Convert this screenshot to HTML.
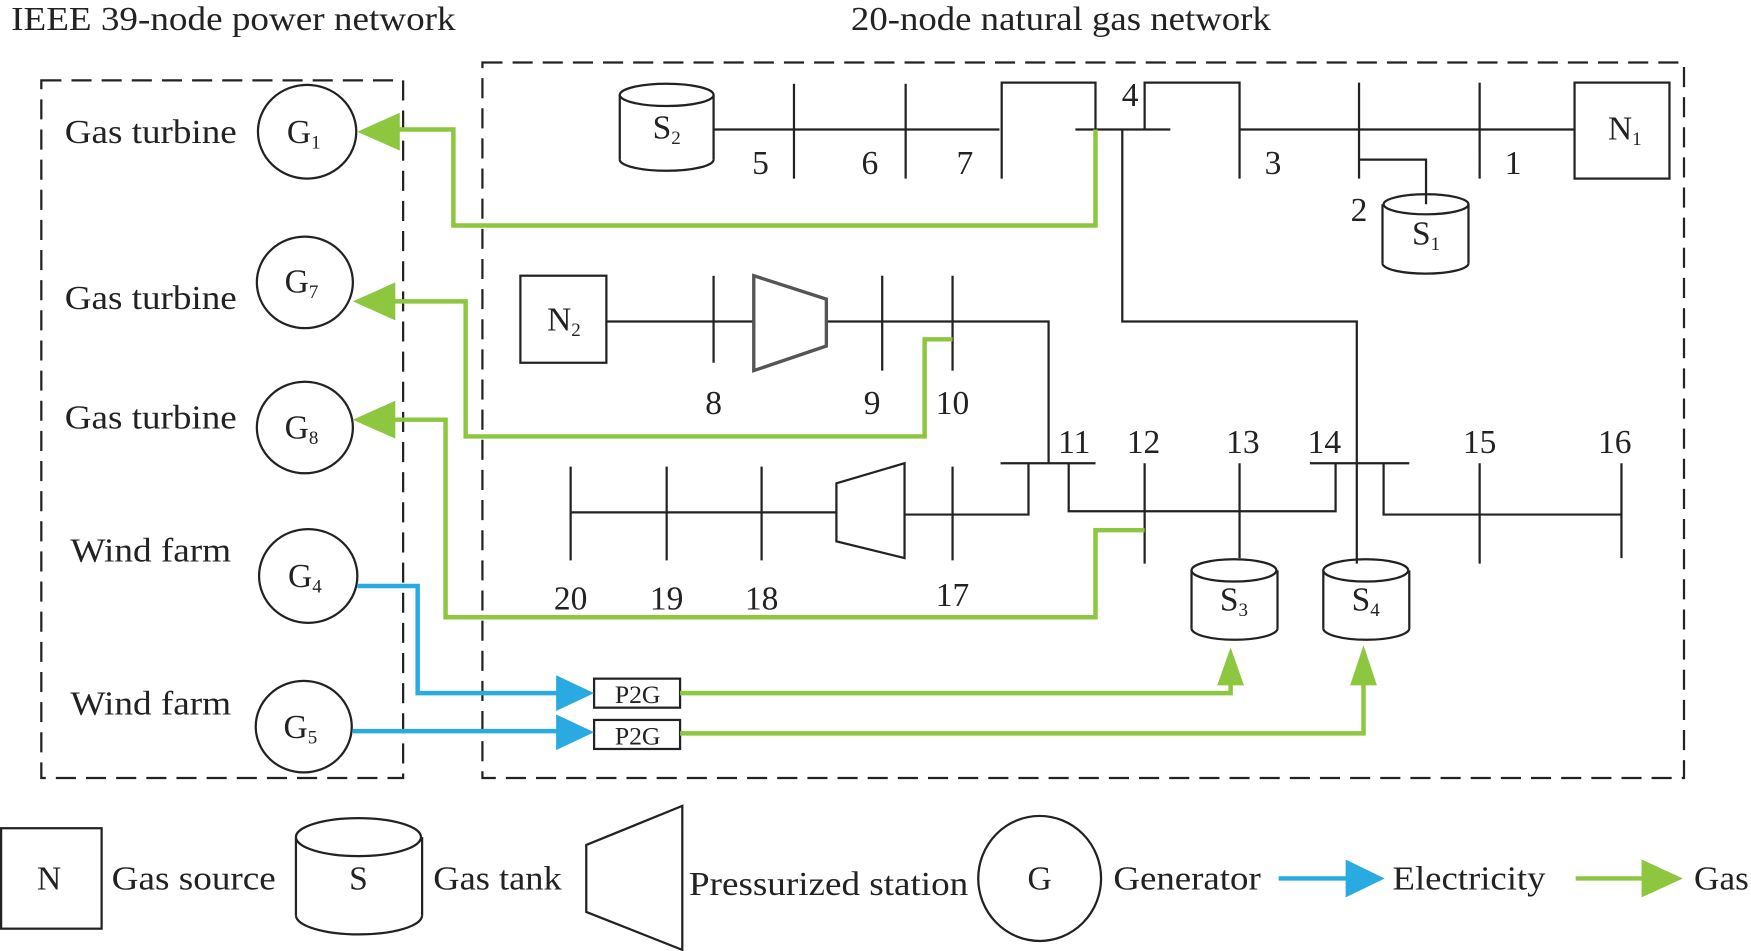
<!DOCTYPE html>
<html><head><meta charset="utf-8"><style>
html,body{margin:0;padding:0;background:#fff;}
svg{display:block;}
svg text{font-family:"Liberation Serif","Times New Roman",serif;fill:#222;}
</style></head><body>
<svg width="1751" height="951" viewBox="0 0 1568 852" preserveAspectRatio="none" xmlns="http://www.w3.org/2000/svg" font-family="Liberation Serif, serif">
<g font-size="30" lengthAdjust="spacingAndGlyphs">
<text x="10" y="27" textLength="398" lengthAdjust="spacingAndGlyphs">IEEE 39-node power network</text>
<text x="762" y="27" textLength="376" lengthAdjust="spacingAndGlyphs">20-node natural gas network</text>
</g>
<g fill="none" stroke="#222" stroke-width="2" stroke-dasharray="18,9">
<rect x="37" y="72" width="324" height="625"/>
<rect x="432" y="56" width="1076" height="641"/>
</g>
<g font-size="30">
<text x="58" y="128" textLength="154" lengthAdjust="spacingAndGlyphs">Gas turbine</text>
<text x="58" y="277" textLength="154" lengthAdjust="spacingAndGlyphs">Gas turbine</text>
<text x="58" y="384" textLength="154" lengthAdjust="spacingAndGlyphs">Gas turbine</text>
<text x="63" y="503" textLength="144" lengthAdjust="spacingAndGlyphs">Wind farm</text>
<text x="63" y="640" textLength="144" lengthAdjust="spacingAndGlyphs">Wind farm</text>
</g>
<g fill="none" stroke="#222" stroke-width="2">
<ellipse cx="275" cy="118" rx="44" ry="42"/>
<ellipse cx="273" cy="253" rx="43" ry="41"/>
<ellipse cx="273" cy="383" rx="43" ry="41"/>
<ellipse cx="276" cy="516" rx="44" ry="42"/>
<ellipse cx="272" cy="651" rx="43" ry="41"/>
</g>
<g font-size="30" text-anchor="middle">
<text x="272" y="128">G<tspan font-size="17" dy="5">1</tspan></text>
<text x="270" y="262">G<tspan font-size="17" dy="5">7</tspan></text>
<text x="270" y="393">G<tspan font-size="17" dy="5">8</tspan></text>
<text x="273" y="526">G<tspan font-size="17" dy="5">4</tspan></text>
<text x="269" y="661">G<tspan font-size="17" dy="5">5</tspan></text>
</g>
<g fill="none" stroke="#222" stroke-width="2">
<path d="M555,85 V143 M639,85 V143"/>
<ellipse cx="597" cy="85" rx="42" ry="10" fill="#fff"/>
<path d="M555,143 A42,10 0 0 0 639,143"/>
<path d="M639,116 H895 M711,75 V160 M811,75 V160 M897,160 V74 H981 V116 M963,116 H1048 M1025,116 V74 H1110 V160 M1110,116 H1410 M1217,74 V160 M1217,143 H1277 V183 M1325,74 V160"/>
<rect x="1410" y="74" width="85" height="86"/>
<path d="M1238,183 V236 M1315,183 V236"/>
<ellipse cx="1277" cy="183" rx="38" ry="9"/>
<path d="M1238,236 A38,9 0 0 0 1315,236"/>
<path d="M1005,116 V288 H1215 V505"/>
<rect x="466" y="247" width="77" height="78"/>
<path d="M543,288 H675 M639,247 V325 M740,288 H939 V415 M790,247 V332 M853,247 V332"/>
<path d="M675,247 L740,268 L740,310 L675,332 Z" stroke="#555" stroke-width="3"/>
<path d="M896,415 H981 M921,415 V461 H810 M957,415 V458 H1196 V415 M1173,415 H1262 M1239,415 V461 H1452 M1025,415 V505 M1110,415 V500 M1325,415 V505 M1452,415 V500"/>
<path d="M749,433 L810,415 L810,500 L749,485 Z"/>
<path d="M511,459 H749 M511,418 V502 M597,418 V502 M682,418 V502 M853,418 V502"/>
<path d="M1067,511 V563 M1144,511 V563 M1185,511 V563 M1262,511 V563"/>
<ellipse cx="1105" cy="511" rx="38" ry="10"/>
<path d="M1067,563 A38,10 0 0 0 1144,563"/>
<ellipse cx="1223" cy="511" rx="38" ry="10"/>
<path d="M1185,563 A38,10 0 0 0 1262,563"/>
<rect x="532" y="608" width="77" height="26"/>
<rect x="532" y="645" width="77" height="26"/>
</g>
<g font-size="30" text-anchor="middle">
<text x="597" y="124">S<tspan font-size="17" dy="5">2</tspan></text>
<text x="1455" y="125">N<tspan font-size="17" dy="5">1</tspan></text>
<text x="1277" y="219">S<tspan font-size="17" dy="5">1</tspan></text>
<text x="505" y="296">N<tspan font-size="17" dy="5">2</tspan></text>
<text x="1105" y="547">S<tspan font-size="17" dy="5">3</tspan></text>
<text x="1223" y="547">S<tspan font-size="17" dy="5">4</tspan></text>
<text x="681" y="156">5</text><text x="779" y="156">6</text><text x="864" y="156">7</text>
<text x="1012" y="95">4</text><text x="1140" y="156">3</text><text x="1217" y="198">2</text><text x="1355" y="156">1</text>
<text x="639" y="371">8</text><text x="781" y="371">9</text><text x="853" y="371">10</text>
<text x="962" y="406">11</text><text x="1024" y="406">12</text><text x="1113" y="406">13</text><text x="1186" y="406">14</text><text x="1325" y="406">15</text><text x="1446" y="406">16</text>
<text x="511" y="546">20</text><text x="597" y="546">19</text><text x="682" y="546">18</text><text x="853" y="543">17</text>
<text x="571" y="630" font-size="23">P2G</text>
<text x="571" y="667" font-size="23">P2G</text>
</g>
<g fill="none" stroke="#8dc63f" stroke-width="4">
<path d="M981,116 V202 H406 V116 H355"/>
<path d="M853,304 H828 V391 H417 V270 H350"/>
<path d="M1025,475 H981 V553 H399 V376 H350"/>
<path d="M609,621 H1102 V612"/>
<path d="M609,657 H1221 V612"/>
<path d="M1411,787 H1475"/>
</g>
<g fill="#8dc63f">
<path d="M320,118 L358,101 L358,135 Z"/>
<path d="M316,270 L354,253 L354,287 Z"/>
<path d="M316,376 L354,359 L354,393 Z"/>
<path d="M1102,580 L1090,614 L1114,614 Z"/>
<path d="M1221,578 L1209,614 L1233,614 Z"/>
<path d="M1507,787 L1470,770 L1470,804 Z"/>
</g>
<g fill="none" stroke="#29abe2" stroke-width="4">
<path d="M320,525 H374 V621 H500"/>
<path d="M316,655 H500"/>
<path d="M1145,787 H1210"/>
</g>
<g fill="#29abe2">
<path d="M532,621 L498,605 L498,637 Z"/>
<path d="M532,656 L498,640 L498,672 Z"/>
<path d="M1240,787 L1205,770 L1205,804 Z"/>
</g>
<g fill="none" stroke="#222" stroke-width="2">
<rect x="1" y="742" width="90" height="90"/>
<path d="M265,750 V820 M378,750 V820"/>
<ellipse cx="321" cy="750" rx="56" ry="17"/>
<path d="M265,820 A56,17 0 0 0 378,820"/>
<path d="M525,757 L611,722 L611,851 L525,817 Z"/>
<ellipse cx="931" cy="787" rx="55" ry="56"/>
</g>
<g font-size="30">
<text x="44" y="797" text-anchor="middle">N</text>
<text x="100" y="797" textLength="147" lengthAdjust="spacingAndGlyphs">Gas source</text>
<text x="321" y="797" text-anchor="middle">S</text>
<text x="388" y="797" textLength="115" lengthAdjust="spacingAndGlyphs">Gas tank</text>
<text x="617" y="802" textLength="250" lengthAdjust="spacingAndGlyphs">Pressurized station</text>
<text x="931" y="797" text-anchor="middle">G</text>
<text x="997" y="797" textLength="132" lengthAdjust="spacingAndGlyphs">Generator</text>
<text x="1247" y="797" textLength="137" lengthAdjust="spacingAndGlyphs">Electricity</text>
<text x="1517" y="797" textLength="49" lengthAdjust="spacingAndGlyphs">Gas</text>
</g>
</svg>
</body></html>
